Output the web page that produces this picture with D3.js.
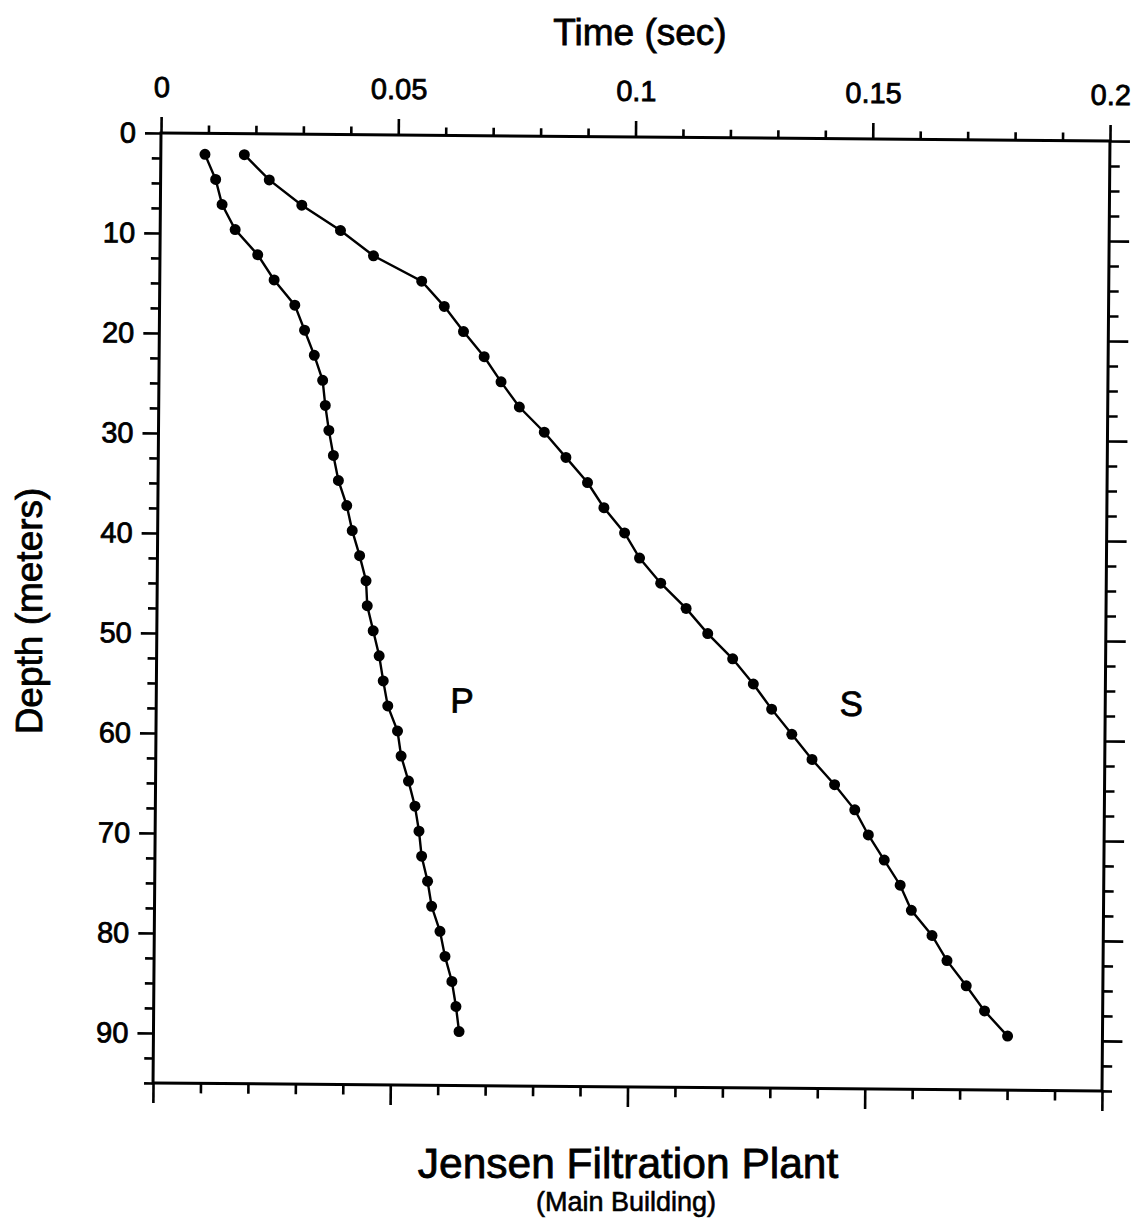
<!DOCTYPE html>
<html>
<head>
<meta charset="utf-8">
<script src="https://cdn.jsdelivr.net/npm/d3@7"></script>
<style>
  html, body { margin: 0; padding: 0; background: #fff; }
  svg { display: block; }
  text { font-family: "Liberation Sans", Arial, Helvetica, sans-serif; fill: #000; }
</style>
</head>
<body>
<svg id="chart" width="1145" height="1223"></svg>
<script>
// ---- Data ----
const depths = [2.1, 4.6, 7.1, 9.6, 12.1, 14.6, 17.1, 19.6, 22.1, 24.6, 27.1, 29.6,
                32.1, 34.6, 37.1, 39.6, 42.1, 44.6, 47.1, 49.6, 52.1, 54.6, 57.1, 59.6,
                62.1, 64.6, 67.1, 69.6, 72.1, 74.6, 77.1, 79.6, 82.1, 84.6, 87.1, 89.6];
const pTimes = [0.0093, 0.0116, 0.0130, 0.0158, 0.0206, 0.0241, 0.0285, 0.0306, 0.0327,
                0.0345, 0.0351, 0.0359, 0.0369, 0.0380, 0.0398, 0.0410, 0.0426, 0.0440,
                0.0443, 0.0456, 0.0469, 0.0478, 0.0488, 0.0509, 0.0517, 0.0533, 0.0547,
                0.0556, 0.0562, 0.0575, 0.0584, 0.0602, 0.0613, 0.0628, 0.0637, 0.0644];
const sTimes = [0.0176, 0.0229, 0.0298, 0.0380, 0.0450, 0.0552, 0.0600, 0.0641, 0.0685,
                0.0721, 0.0760, 0.0813, 0.0859, 0.0905, 0.0940, 0.0984, 0.1016, 0.1061,
                0.1115, 0.1161, 0.1214, 0.1258, 0.1297, 0.1340, 0.1383, 0.1431, 0.1474,
                0.1503, 0.1537, 0.1571, 0.1595, 0.1639, 0.1671, 0.1712, 0.1751, 0.1800];
const xMajorTicks = [0, 0.05, 0.1, 0.15, 0.2];
const xTickLabels = ["0", "0.05", "0.1", "0.15", "0.2"];
const yMajorTicks = [0, 10, 20, 30, 40, 50, 60, 70, 80, 90];
const yTickLabels = ["0", "10", "20", "30", "40", "50", "60", "70", "80", "90"];
const xTitle = "Time (sec)";
const yTitle = "Depth (meters)";
const title = "Jensen Filtration Plant";
const subtitle = "(Main Building)";
const seriesLabels = ["P", "S"];

// ---- Layout ----
const svg = d3.select("#chart");
const W = 949, H = 950;
const x = d3.scaleLinear().domain([0, 0.2]).range([0, W]);
const y = d3.scaleLinear().domain([0, 95]).range([0, H]);

const xMinor = d3.range(0, 0.2001, 0.01).filter(v => Math.abs(Math.round(v * 20) - v * 20) > 1e-6);
const yMinor = d3.range(0, 95.01, 2.5).filter(v => v % 10 !== 0);

const g = svg.append("g").attr("transform", "translate(161,133) rotate(0.48)");

function styleAxis(sel) {
  sel.select(".domain").remove();
  sel.selectAll(".tick line").attr("stroke", "#000").attr("stroke-width", 2.6);
  sel.selectAll(".tick text").attr("font-size", 29).attr("fill", "#000")
     .attr("stroke", "#000").attr("stroke-width", 0.8)
     .attr("font-family", "'Liberation Sans', Arial, Helvetica, sans-serif");
}

// Top axis (labeled)
g.append("g").call(d3.axisTop(x).tickValues(xMajorTicks).tickSize(16).tickPadding(20)
  .tickFormat((d, i) => xTickLabels[i])).call(styleAxis);
g.append("g").call(d3.axisTop(x).tickValues(xMinor).tickSize(8).tickFormat("")).call(styleAxis);
// Bottom axis
g.append("g").attr("transform", `translate(0,${H})`)
  .call(d3.axisBottom(x).tickValues(xMajorTicks).tickSize(20).tickFormat("")).call(styleAxis);
g.append("g").attr("transform", `translate(0,${H})`)
  .call(d3.axisBottom(x).tickValues(xMinor).tickSize(10).tickFormat("")).call(styleAxis);
// Left axis (labeled)
g.append("g").call(d3.axisLeft(y).tickValues(yMajorTicks).tickSize(16).tickPadding(9)
  .tickFormat((d, i) => yTickLabels[i])).call(styleAxis);
g.append("g").call(d3.axisLeft(y).tickValues(yMinor).tickSize(9).tickFormat("")).call(styleAxis);
// Right axis
g.append("g").attr("transform", `translate(${W},0)`)
  .call(d3.axisRight(y).tickValues(yMajorTicks).tickSize(20).tickFormat("")).call(styleAxis);
g.append("g").attr("transform", `translate(${W},0)`)
  .call(d3.axisRight(y).tickValues(yMinor).tickSize(10).tickFormat("")).call(styleAxis);

// Frame
g.append("rect").attr("x", 0).attr("y", 0).attr("width", W).attr("height", H)
  .attr("fill", "none").attr("stroke", "#000").attr("stroke-width", 3);

// Series
const line = d3.line().x(d => x(d[0])).y(d => y(d[1]));
const series = [pTimes, sTimes].map(ts => ts.map((t, i) => [t, depths[i]]));
series.forEach(pts => {
  g.append("path").datum(pts).attr("d", line)
    .attr("fill", "none").attr("stroke", "#000").attr("stroke-width", 2.4);
  g.append("g").selectAll("circle").data(pts).join("circle")
    .attr("cx", d => x(d[0])).attr("cy", d => y(d[1])).attr("r", 5.5).attr("fill", "#000");
});

// Series labels
g.append("text").attr("x", x(0.0620)).attr("y", y(57.7)).attr("font-size", 35)
  .attr("stroke", "#000").attr("stroke-width", 0.8).text(seriesLabels[0]);
g.append("text").attr("x", x(0.1440)).attr("y", y(57.7)).attr("font-size", 35)
  .attr("stroke", "#000").attr("stroke-width", 0.8).text(seriesLabels[1]);

// Titles
svg.append("text").attr("x", 640).attr("y", 45).attr("text-anchor", "middle")
  .attr("font-size", 37).attr("stroke", "#000").attr("stroke-width", 0.8).text(xTitle);
svg.append("text").attr("transform", "translate(42,611) rotate(-90)").attr("text-anchor", "middle")
  .attr("font-size", 37).attr("stroke", "#000").attr("stroke-width", 0.8).text(yTitle);
svg.append("text").attr("x", 628).attr("y", 1178).attr("text-anchor", "middle")
  .attr("font-size", 42.5).attr("stroke", "#000").attr("stroke-width", 0.8).text(title);
svg.append("text").attr("x", 626).attr("y", 1211).attr("text-anchor", "middle")
  .attr("font-size", 27).attr("stroke", "#000").attr("stroke-width", 0.6).text(subtitle);
</script>
</body>
</html>
